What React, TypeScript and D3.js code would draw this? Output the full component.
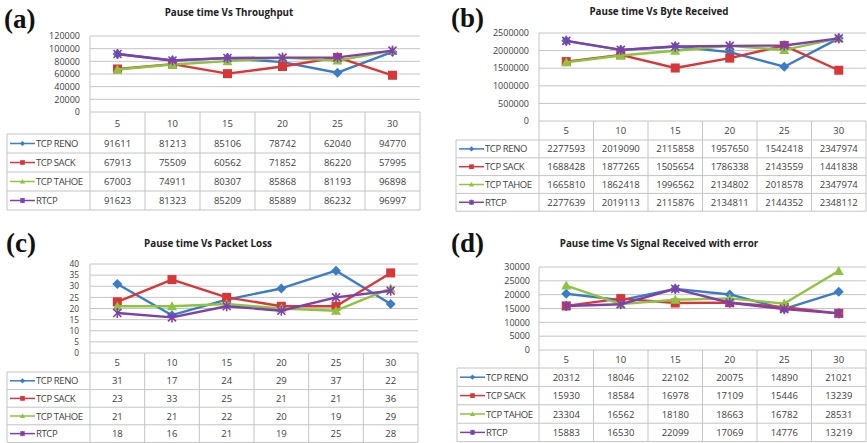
import React from "react";
import * as d3 from "d3";

const pauseTimes = ["5", "10", "15", "20", "25", "30"];
const seriesNames = ["TCP RENO", "TCP SACK", "TCP TAHOE", "RTCP"];
const seriesColors = ["#3b7cc6", "#d8373a", "#8dc43e", "#7d40ac"];
const markerKinds = ["diamond", "square", "triangle", "star"];

const throughputReno = [91611, 81213, 85106, 78742, 62040, 94770];
const throughputSack = [67913, 75509, 60562, 71852, 86220, 57995];
const throughputTahoe = [67003, 74911, 80307, 85868, 81193, 96898];
const throughputRtcp = [91623, 81323, 85209, 85889, 86232, 96997];

const bytesReno = [2277593, 2019090, 2115858, 1957650, 1542418, 2347974];
const bytesSack = [1688428, 1877265, 1505654, 1786338, 2143559, 1441838];
const bytesTahoe = [1665810, 1862418, 1996562, 2134802, 2018578, 2347974];
const bytesRtcp = [2277639, 2019113, 2115876, 2134811, 2144352, 2348112];

const lossReno = [31, 17, 24, 29, 37, 22];
const lossSack = [23, 33, 25, 21, 21, 36];
const lossTahoe = [21, 21, 22, 20, 19, 29];
const lossRtcp = [18, 16, 21, 19, 25, 28];

const errReno = [20312, 18046, 22102, 20075, 14890, 21021];
const errSack = [15930, 18584, 16978, 17109, 15446, 13239];
const errTahoe = [23304, 16562, 18180, 18663, 16782, 28531];
const errRtcp = [15883, 16530, 22099, 17069, 14776, 13219];

const titles = [
  "Pause time Vs Throughput",
  "Pause time Vs Byte Received",
  "Pause time Vs Packet Loss",
  "Pause time Vs Signal Received with error",
];
const panelLabels = ["(a)", "(b)", "(c)", "(d)"];
const yMaxes = [120000, 2500000, 40, 30000];
const ySteps = [20000, 500000, 5, 5000];

type Layout = {
  labelX: number; labelY: number;
  titleX: number; titleY: number;
  x0: number; x1: number; yTop: number; yBottom: number;
  headerBottom: number; rowH: number; tableLeft: number; tickRight: number; tickFont: number;
};

const layouts: Layout[] = [
  { labelX: 4, labelY: 28, titleX: 229, titleY: 16, x0: 90, x1: 420, yTop: 36, yBottom: 112, headerBottom: 134, rowH: 19, tableLeft: 7, tickRight: 80, tickFont: 9 },
  { labelX: 451, labelY: 27, titleX: 659, titleY: 15, x0: 539, x1: 866, yTop: 33, yBottom: 121, headerBottom: 140, rowH: 17.8, tableLeft: 456, tickRight: 529, tickFont: 9 },
  { labelX: 6, labelY: 252, titleX: 208, titleY: 247, x0: 90, x1: 418, yTop: 264, yBottom: 353, headerBottom: 372, rowH: 17.6, tableLeft: 7, tickRight: 79, tickFont: 8.3 },
  { labelX: 451, labelY: 252, titleX: 659, titleY: 247, x0: 539, x1: 866, yTop: 267, yBottom: 350, headerBottom: 368, rowH: 18.4, tableLeft: 457, tickRight: 530, tickFont: 9 },
];

const GRID = "#c4c4c4";
const TXT = "#404040";

function Marker({ kind, x, y, color, s }: { kind: string; x: number; y: number; color: string; s: number }) {
  if (kind === "diamond") {
    return <path d={`M${x},${y - s}L${x + s},${y}L${x},${y + s}L${x - s},${y}Z`} fill={color} />;
  }
  if (kind === "square") {
    const h = s * 0.9;
    return <rect x={x - h} y={y - h} width={2 * h} height={2 * h} fill={color} />;
  }
  if (kind === "triangle") {
    return <path d={`M${x},${y - s}L${x + s},${y + s * 0.8}L${x - s},${y + s * 0.8}Z`} fill={color} />;
  }
  const a = s * 0.8;
  return (
    <g stroke={color} strokeWidth={1.6}>
      <line x1={x - a} y1={y - a} x2={x + a} y2={y + a} />
      <line x1={x - a} y1={y + a} x2={x + a} y2={y - a} />
      <line x1={x} y1={y - s} x2={x} y2={y + s} />
    </g>
  );
}

function Panel({ idx, series }: { idx: number; series: number[][] }) {
  const L = layouts[idx];
  const yMax = yMaxes[idx];
  const step = ySteps[idx];
  const ticks = d3.range(0, yMax + step / 2, step);
  const x = d3.scaleBand<string>().domain(pauseTimes).range([L.x0, L.x1]);
  const y = d3.scaleLinear().domain([0, yMax]).range([L.yBottom, L.yTop]);
  const line = d3
    .line<number>()
    .x((_, i) => (x(pauseTimes[i]) as number) + x.bandwidth() / 2)
    .y((v) => y(v));
  const tableBottom = L.headerBottom + L.rowH * 4;
  const colEdges = pauseTimes.map((p) => x(p) as number).concat([L.x1]);
  return (
    <g>
      <text x={L.labelX} y={L.labelY} fontFamily="Liberation Serif, serif" fontWeight="bold" fontSize={27} fill="#111">
        {panelLabels[idx]}
      </text>
      <text x={L.titleX} y={L.titleY} textAnchor="middle" fontFamily="Open Sans, sans-serif" fontWeight="bold" fontSize={9.8} fill="#222">
        {titles[idx]}
      </text>
      {ticks.map((t) => (
        <g key={t}>
          <line x1={L.x0} x2={L.x1} y1={y(t)} y2={y(t)} stroke={GRID} strokeWidth={1} />
          <text x={L.tickRight} y={y(t) + 3.2} textAnchor="end" fontFamily="Open Sans, sans-serif" fontSize={L.tickFont} fill={TXT}>
            {t}
          </text>
        </g>
      ))}
      <line x1={L.x0} x2={L.x0} y1={L.yTop} y2={L.yBottom} stroke={GRID} />
      {colEdges.map((cx, i) => (
        <line key={i} x1={cx} x2={cx} y1={L.yBottom} y2={tableBottom} stroke={GRID} />
      ))}
      <line x1={L.tableLeft} x2={L.tableLeft} y1={L.headerBottom} y2={tableBottom} stroke={GRID} />
      {d3.range(5).map((r) => (
        <line key={r} x1={L.tableLeft} x2={L.x1} y1={L.headerBottom + r * L.rowH} y2={L.headerBottom + r * L.rowH} stroke={GRID} />
      ))}
      {pauseTimes.map((p) => (
        <text key={p} x={(x(p) as number) + x.bandwidth() / 2} y={(L.yBottom + L.headerBottom) / 2 + 3.5} textAnchor="middle" fontFamily="Open Sans, sans-serif" fontSize={9.5} fill={TXT}>
          {p}
        </text>
      ))}
      {series.map((vals, s) => {
        const cy = L.headerBottom + (s + 0.5) * L.rowH;
        return (
          <g key={s}>
            <line x1={L.tableLeft + 3} x2={L.tableLeft + 28} y1={cy} y2={cy} stroke={seriesColors[s]} strokeWidth={1.5} />
            <Marker kind={markerKinds[s]} x={L.tableLeft + 15.5} y={cy} color={seriesColors[s]} s={2.6} />
            <text x={L.tableLeft + 29} y={cy + 3.5} fontFamily="Open Sans, sans-serif" fontSize={9.5} fill={TXT} letterSpacing={-0.4}>
              {seriesNames[s]}
            </text>
            {vals.map((v, i) => (
              <text key={i} x={(x(pauseTimes[i]) as number) + x.bandwidth() / 2} y={cy + 3.5} textAnchor="middle" fontFamily="Open Sans, sans-serif" fontSize={9.5} fill={TXT}>
                {v}
              </text>
            ))}
          </g>
        );
      })}
      {series.map((vals, s) => (
        <g key={s}>
          <path d={line(vals) as string} fill="none" stroke={seriesColors[s]} strokeWidth={2.4} strokeLinejoin="round" />
          {vals.map((v, i) => (
            <Marker key={i} kind={markerKinds[s]} x={(x(pauseTimes[i]) as number) + x.bandwidth() / 2} y={y(v)} color={seriesColors[s]} s={5} />
          ))}
        </g>
      ))}
    </g>
  );
}

export default function App() {
  const data = [
    [throughputReno, throughputSack, throughputTahoe, throughputRtcp],
    [bytesReno, bytesSack, bytesTahoe, bytesRtcp],
    [lossReno, lossSack, lossTahoe, lossRtcp],
    [errReno, errSack, errTahoe, errRtcp],
  ];
  return (
    <svg width={867} height={443} style={{ position: "absolute", left: 0, top: 0, background: "#fff" }}>
      <rect width={867} height={443} fill="#fff" />
      {data.map((series, i) => (
        <Panel key={i} idx={i} series={series} />
      ))}
    </svg>
  );
}
